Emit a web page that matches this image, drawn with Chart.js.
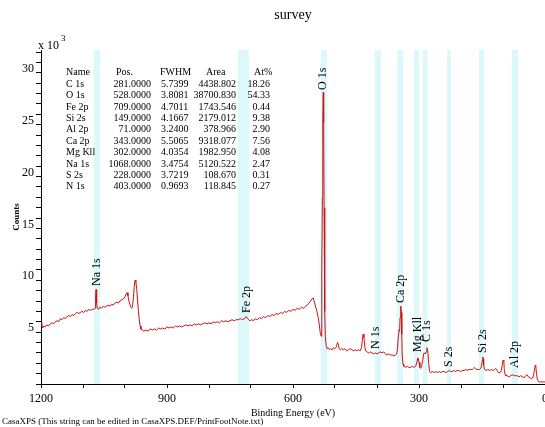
<!DOCTYPE html>
<html><head><meta charset="utf-8">
<script src="https://cdn.jsdelivr.net/npm/chart.js@4.4.0/dist/chart.umd.min.js"></script>
<style>html,body{margin:0;padding:0;background:#fff;overflow:hidden}canvas{display:block}</style>
</head><body>
<canvas id="c" width="545" height="427"></canvas>
<script>
// Binding energy (eV) and counts (x 10^3)
const energy = [1200,1198,1196,1193,1190,1186,1182,1178,1174,1170,1166,1162,1158,1154,1150,1146,1142,1138,1134,1130,1126,1122,1118,1114,1110,1106,1102,1098,1094,1090,1086,1082,1078,1074,1071,1070,1069,1068,1067,1066,1063,1060,1056,1052,1048,1044,1040,1036,1032,1028,1024,1020,1016,1012,1008,1004,1000,997,995,993,990,987,984,982,980,978,976,974,972,970,968,966,964,962,959,955,950,945,940,935,930,925,920,915,910,905,900,895,890,885,880,875,870,865,860,855,850,845,840,835,830,825,820,815,810,805,800,795,790,785,780,775,770,765,760,755,750,745,740,735,730,725,720,715,712,709,706,702,698,694,690,685,680,675,670,665,660,655,650,645,640,635,630,625,620,615,610,605,600,595,590,585,580,575,570,566,562,558,555,552,549,546,543,540,537,535,533,532,531,530,529,528,527,526,525,524,523,521,519,516,513,510,507,504,501,498,496,494,492,490,487,484,480,476,472,468,464,460,456,452,448,444,440,437,435,433,431,429,427,424,420,416,412,408,404,400,396,392,388,384,380,376,372,368,364,360,356,353,351,349,348,347,346,345,344,343,342,341,340,338,336,332,328,324,320,316,312,308,305,303,302,300,298,296,294,291,289,287,285,283,281,279,277,275,272,268,264,260,256,252,248,244,240,236,232,228,225,221,217,213,209,205,201,197,193,189,185,181,177,173,170,168,166,162,159,156,153,151,149,148,147,146,144,140,136,132,128,124,120,117,115,113,111,107,104,102,100,98,97,95,93,90,86,82,78,74,70,66,62,58,54,50,46,43,40,36,32,29,27,25,23,22,20,18,14,10,6,2,0];
const counts = [5.9,5.6,5.4,5.6,5.5,5.7,5.6,5.8,5.9,5.8,6.0,6.1,6.0,6.3,6.2,6.4,6.3,6.5,6.6,6.5,6.7,6.6,6.8,6.9,6.8,6.9,7.0,6.9,7.1,7.0,7.2,7.1,7.2,7.2,7.3,8.2,9.1,8.8,7.8,7.3,7.2,7.4,7.3,7.5,7.4,7.5,7.6,7.5,7.7,7.6,7.8,7.9,7.8,8.0,8.1,8.2,8.4,8.7,8.8,8.5,7.9,7.5,7.3,7.5,8.3,9.4,10.0,9.8,9.1,8.0,7.0,6.2,5.6,5.3,5.2,5.1,5.2,5.1,5.3,5.2,5.3,5.2,5.4,5.3,5.4,5.3,5.5,5.4,5.5,5.4,5.6,5.5,5.6,5.5,5.6,5.7,5.6,5.7,5.6,5.8,5.7,5.8,5.7,5.8,5.9,5.8,5.9,5.8,6.0,5.9,6.0,5.9,6.1,6.0,6.1,6.0,6.1,6.2,6.1,6.2,6.2,6.3,6.2,6.3,6.5,6.4,6.2,6.1,6.2,6.1,6.3,6.2,6.4,6.3,6.5,6.4,6.6,6.5,6.7,6.6,6.8,6.7,6.9,6.8,7.0,6.9,7.1,7.0,7.2,7.1,7.3,7.2,7.4,7.3,7.5,7.6,7.8,8.0,8.2,8.3,7.9,7.4,7.0,6.4,5.6,4.9,4.6,7.5,11.2,18.0,25.6,28.1,25.2,17.0,11.8,7.0,4.6,3.7,3.4,3.5,3.3,3.4,3.3,3.5,3.4,3.5,3.7,4.0,3.8,3.4,3.3,3.4,3.3,3.4,3.2,3.3,3.4,3.3,3.2,3.3,3.2,3.3,3.2,3.5,4.2,4.8,4.5,3.6,3.2,3.1,3.0,3.1,3.0,2.9,3.0,2.9,3.0,3.1,3.0,3.1,2.9,2.8,2.9,2.8,2.8,2.7,2.8,2.9,3.5,4.8,5.2,5.1,5.3,6.4,7.2,7.5,6.9,4.8,2.8,1.9,1.7,1.6,1.7,1.6,1.6,1.7,1.6,1.7,2.1,2.5,2.5,2.1,1.6,1.5,1.7,2.3,2.9,3.0,2.9,3.1,3.5,3.2,2.0,1.2,1.1,1.2,1.1,1.2,1.1,1.2,1.1,1.2,1.2,1.1,1.2,1.3,1.2,1.2,1.3,1.2,1.3,1.3,1.2,1.3,1.3,1.4,1.3,1.4,1.4,1.4,1.5,1.6,1.5,1.4,1.4,1.4,1.5,1.8,2.3,2.6,2.4,1.8,1.4,1.3,1.4,1.3,1.4,1.3,1.4,1.5,1.4,1.2,1.1,1.1,1.3,1.8,2.3,2.2,1.4,0.9,0.8,0.8,0.7,0.8,0.9,0.8,0.8,0.8,0.7,0.8,0.7,0.6,0.8,0.9,0.7,0.6,0.5,0.6,0.9,1.4,1.8,1.7,0.9,0.4,0.2,0.2,0.2,0.2,0.2];

// Quantification table
const peakNames = ['C 1s','O 1s','Fe 2p','Si 2s','Al 2p','Ca 2p','Mg Kll','Na 1s','S 2s','N 1s'];
const peakPos = ['281.0000','528.0000','709.0000','149.0000','71.0000','343.0000','302.0000','1068.0000','228.0000','403.0000'];
const peakFWHM = ['5.7399','3.8081','4.7011','4.1667','3.2400','5.5065','4.0354','3.4754','3.7219','0.9693'];
const peakArea = ['4438.802','38700.830','1743.546','2179.012','378.966','9318.077','1982.950','5120.522','108.670','118.845'];
const peakAt = ['18.26','54.33','0.44','9.38','2.90','7.56','4.08','2.47','0.31','0.27'];

// Region bands [high eV, low eV]
const regionHigh = [1074,731,533,405,352,312,291,233,157,79];
const regionLow  = [1059,705,519,390,338,300,280,224,145,64];

// Peak labels (energy, count at label base)
const labelText = ['Na 1s','Fe 2p','O 1s','N 1s','Ca 2p','Mg Kll','C 1s','S 2s','Si 2s','Al 2p'];
const labelE = [1068,709,528,403,343,302,281,228,149,71];
const labelY = [9.45,6.85,28.35,3.38,7.81,3.09,4.05,1.64,2.99,1.54];

const xTickLabels = [1200,900,600,300,0];
const yTickLabels = [5,10,15,20,25,30];

const SERIF = "'Liberation Serif','Times New Roman',serif";

const bands = {
  id:'bands',
  beforeDatasetsDraw(chart){
    const {ctx, chartArea:a, scales:{x}} = chart;
    ctx.save();
    ctx.fillStyle = '#dcf8fa';
    for(let i=0;i<regionHigh.length;i++){
      const x1 = x.getPixelForValue(regionHigh[i]);
      const x2 = x.getPixelForValue(regionLow[i]);
      ctx.fillRect(x1, a.top, x2-x1, a.bottom-a.top);
    }
    ctx.restore();
  }
};

const texts = {
  id:'texts',
  afterDatasetsDraw(chart){
    const {ctx, chartArea:a, scales:{x,y}} = chart;
    ctx.save();
    ctx.fillStyle = '#000';
    // title
    ctx.font = '14px '+SERIF;
    ctx.textAlign='center'; ctx.textBaseline='middle';
    ctx.fillText('survey', (a.left+a.right)/2, 15);
    // multiplier
    ctx.textAlign='left'; ctx.textBaseline='alphabetic';
    ctx.font = '12px '+SERIF;
    ctx.fillText('x 10', 38, 49);
    ctx.font = '9px '+SERIF;
    ctx.fillText('3', 61, 41);
    // table
    ctx.font = '10px '+SERIF;
    ctx.textBaseline='middle';
    const y0 = 72.7, dy = 11.4;
    ctx.textAlign='left';
    ctx.fillText('Name', 66, y0);
    ctx.fillText('Pos.', 116, y0);
    ctx.fillText('FWHM', 160, y0);
    ctx.fillText('Area', 206, y0);
    ctx.fillText('At%', 254, y0);
    for(let i=0;i<peakNames.length;i++){
      const yy = y0 + dy*(i+1);
      ctx.textAlign='left';
      ctx.fillText(peakNames[i], 66, yy);
      ctx.fillText(peakFWHM[i], 161, yy);
      ctx.textAlign='right';
      ctx.fillText(peakPos[i], 151, yy);
      ctx.fillText(peakArea[i], 236, yy);
      ctx.fillText(peakAt[i], 270, yy);
    }
    // peak labels
    ctx.font = '12px '+SERIF;
    ctx.textAlign='left'; ctx.textBaseline='middle';
    for(let i=0;i<labelText.length;i++){
      const px = x.getPixelForValue(labelE[i]);
      const py = y.getPixelForValue(labelY[i]);
      ctx.save();
      ctx.translate(px, py);
      ctx.rotate(-Math.PI/2);
      ctx.fillText(labelText[i], 0, 0);
      ctx.restore();
    }
    // footnote
    ctx.font = '9px '+SERIF;
    ctx.textAlign='left'; ctx.textBaseline='middle';
    ctx.fillText('CasaXPS (This string can be edited in CasaXPS.DEF/PrintFootNote.txt)', 2, 422);
    ctx.restore();
  }
};

new Chart(document.getElementById('c'), {
  type:'line',
  data:{datasets:[{
    data: energy.map((e,i)=>({x:e, y:counts[i]})),
    borderColor:'#cc1010', borderWidth:1, pointRadius:0, tension:0, fill:false
  }]},
  options:{
    responsive:false, animation:false, devicePixelRatio:1,
    layout:{padding:{top:50,left:0,right:0,bottom:0}},
    plugins:{legend:{display:false}, tooltip:{enabled:false}, title:{display:false}},
    scales:{
      x:{
        type:'linear', reverse:true, min:0, max:1200,
        grid:{drawOnChartArea:false, drawTicks:true, tickLength:4, color:'#000'},
        border:{display:true, color:'#000', width:1},
        ticks:{stepSize:100, autoSkip:false, maxRotation:0, minRotation:0, padding:4, color:'#000',
          font:{family:SERIF, size:12},
          callback:v=> xTickLabels.includes(Math.round(v)) ? String(Math.round(v)) : ''},
        title:{display:true, text:'Binding Energy (eV)', color:'#000', font:{family:SERIF, size:10}, padding:{top:0,bottom:8}},
        afterFit:s=>{ s.height = 43; s.paddingLeft = 0; s.paddingRight = 0; }
      },
      y:{
        type:'linear', min:0, max:32.2,
        grid:{drawOnChartArea:false, drawTicks:true, tickLength:5, color:'#000'},
        border:{display:true, color:'#000', width:1},
        ticks:{stepSize:1, includeBounds:false, autoSkip:false, padding:2, labelOffset:-4, color:'#000',
          font:{family:SERIF, size:12},
          callback:v=> yTickLabels.includes(Math.round(v)) && Math.abs(v-Math.round(v))<1e-6 ? String(Math.round(v)) : ''},
        title:{display:true, text:'Counts', color:'#000', font:{family:SERIF, size:9, weight:'bold'}, padding:{top:11,bottom:0}},
        afterFit:s=>{ s.width = 41; s.paddingTop = 0; s.paddingBottom = 0; }
      }
    }
  },
  plugins:[bands, texts]
});
</script>
</body></html>
